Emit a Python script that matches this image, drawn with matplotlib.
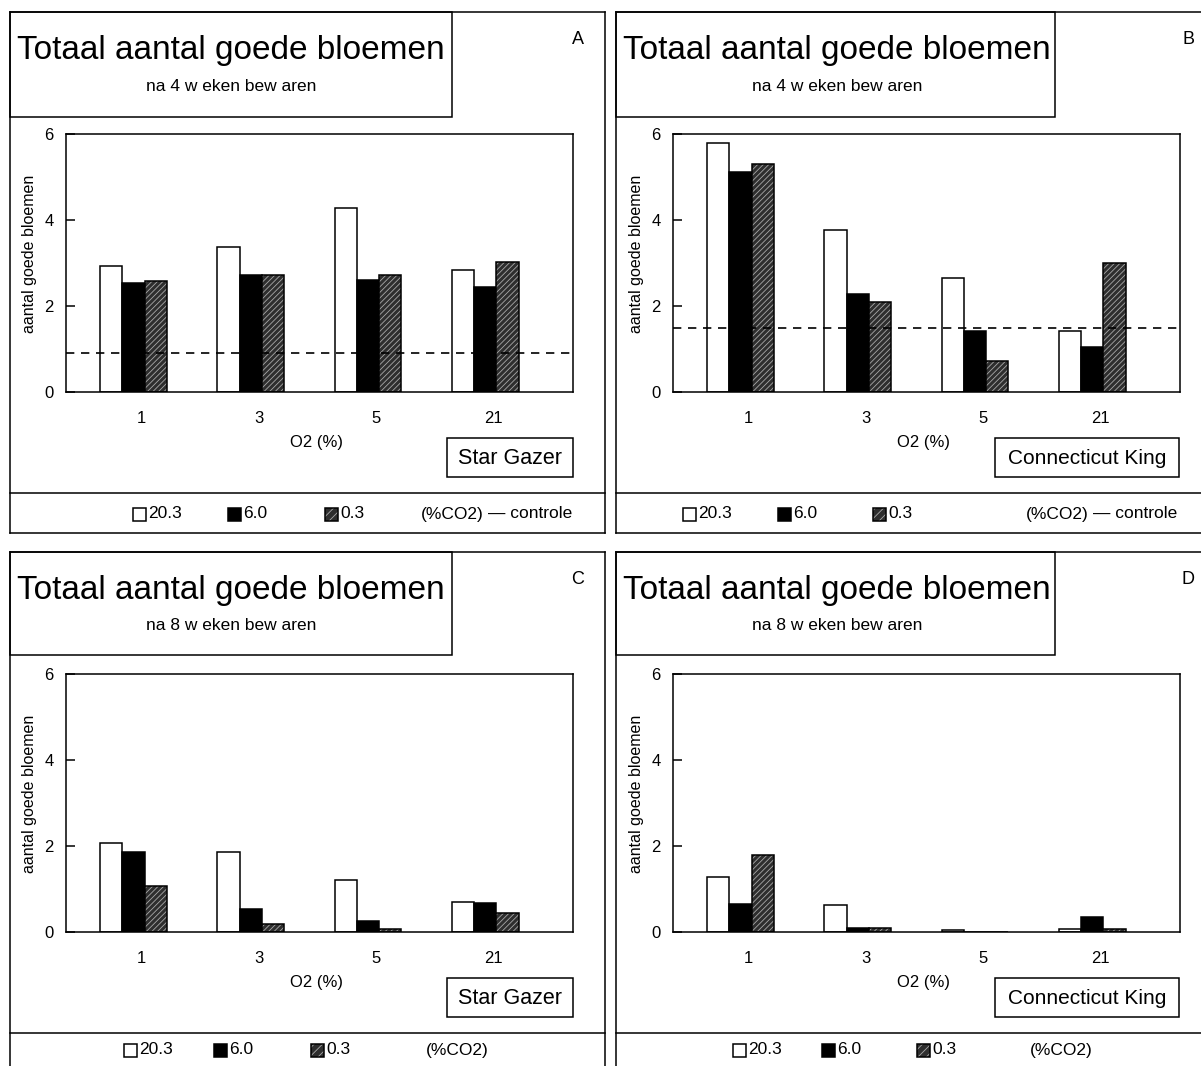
import matplotlib
matplotlib.use('Agg')
import matplotlib.pyplot as plt
from matplotlib.patches import Rectangle
from matplotlib.lines import Line2D
import numpy as np

plt.rcParams['font.family'] = ['Liberation Sans', 'DejaVu Sans']
plt.rcParams['hatch.linewidth'] = 0.6

# ---------------- data ----------------
o2_labels = ['1', '3', '5', '21']
co2_labels = ['20.3', '6.0', '0.3']

a_203 = [2.94, 3.38, 4.27, 2.84]
a_60 = [2.53, 2.72, 2.60, 2.45]
a_03 = [2.57, 2.72, 2.72, 3.03]
a_controle = 0.90

b_203 = [5.78, 3.77, 2.64, 1.41]
b_60 = [5.12, 2.29, 1.42, 1.05]
b_03 = [5.31, 2.09, 0.73, 3.01]
b_controle = 1.48

c_203 = [2.08, 1.87, 1.21, 0.69]
c_60 = [1.85, 0.53, 0.26, 0.68]
c_03 = [1.07, 0.18, 0.07, 0.44]

d_203 = [1.29, 0.62, 0.05, 0.07]
d_60 = [0.66, 0.10, 0.0, 0.35]
d_03 = [1.80, 0.09, 0.0, 0.07]

yticks = [0, 2, 4, 6]
title = 'Totaal aantal goede bloemen'
subtitles = ['na 4 w eken bew aren', 'na 8 w eken bew aren']
cultivars = ['Star Gazer', 'Connecticut King']
ylabel = 'aantal goede bloemen'
xlabel = 'O2 (%)'

# ---------------- layout helpers ----------------
W, H = 1201, 1066
fig = plt.figure(figsize=(W / 100, H / 100), dpi=100)
LW = 1.1


def fx(x):
    return x / W


def fy(y):
    return 1 - y / H


def line(x0, y0, x1, y1, **kw):
    fig.add_artist(Line2D([fx(x0), fx(x1)], [fy(y0), fy(y1)], color='k',
                          lw=kw.get('lw', LW), transform=fig.transFigure))


def rect(x0, y0, x1, y1, **kw):
    fig.add_artist(Rectangle((fx(x0), fy(y1)), (x1 - x0) / W, (y1 - y0) / H,
                             transform=fig.transFigure, **kw))


def panel(px, py, vals, controle, letter, sub, cultivar, show_controle):
    top, bot, sep = 12 + py, 533 + py, 493 + py
    left = 10 + px
    right = 605 + px if px == 0 else 1210
    # outer frame
    line(left, top, right, top)
    line(left, top, left, bot)
    line(right, top, right, bot)
    line(left, bot, right, bot)
    line(left, sep, right, sep)
    # title box
    rect(left, top, 452 + px - (0 if px == 0 else 3), 117 + py - (0 if py == 0 else 2),
         fill=False, edgecolor='k', lw=LW)
    tx = (left + 452 + px) / 2
    fig.text(fx(tx), fy(50 + py), title, fontsize=24, ha='center', va='center')
    fig.text(fx(tx), fy(86 + py), sub, fontsize=12.5, ha='center', va='center')
    fig.text(fx(578 + (0 if px == 0 else px + 4)), fy(40 + py), letter,
             fontsize=13, ha='center', va='center')

    # axes
    al = 66 + px + (1 if px else 0)
    ar = 573 + px + (1 if px else 0)
    at, ab = 134 + py, 392 + py
    ax = fig.add_axes([fx(al), fy(ab), (ar - al) / W, (ab - at) / H])
    x = np.arange(len(o2_labels))
    w, off = 0.19, -0.07
    v203, v60, v03 = vals
    ax.bar(x + off - w, v203, w, color='white', edgecolor='k', lw=LW)
    ax.bar(x + off, v60, w, color='k', edgecolor='k', lw=LW)
    ax.bar(x + off + w, v03, w, color='#2e2e2e', edgecolor='#a8a8a8',
           hatch='//////', lw=0)
    ax.bar(x + off + w, v03, w, fill=False, edgecolor='k', lw=LW)
    if controle is not None:
        ax.axhline(controle, color='k', lw=1.2, ls=(0, (5, 4)))
    ax.set_xlim(-0.646, 3.68)
    ax.set_ylim(0, 6)
    ax.set_yticks(yticks)
    ax.set_xticks(x)
    ax.set_xticklabels(o2_labels)
    ax.tick_params(axis='y', direction='in', length=6.5, width=LW, pad=9,
                   labelsize=12)
    ax.tick_params(axis='x', length=0, pad=14, labelsize=12)
    for s in ax.spines.values():
        s.set_linewidth(LW)
    ax.set_ylabel(ylabel, fontsize=11.5)
    ax.yaxis.set_label_coords(-0.058, 0.535)
    ax.set_xlabel(xlabel, fontsize=12)
    ax.xaxis.set_label_coords(0.495, -0.165)

    # cultivar box
    if px == 0:
        bx0, bx1 = 447, 573
        fsz = 15.5
    else:
        bx0, bx1 = 995, 1179
        fsz = 15
    by0, by1 = 438 + py, 477 + py
    rect(bx0, by0, bx1, by1, fill=False, edgecolor='k', lw=LW)
    fig.text(fx((bx0 + bx1) / 2), fy((by0 + by1) / 2 + 1), cultivar,
             fontsize=fsz, ha='center', va='center')

    # legend
    ly = 514 + py if py == 0 else 1050
    if px == 0:
        sq = [133, 228, 325] if py == 0 else [124, 214, 311]
        co2x = 421 if py == 0 else 426
    else:
        sq = [683, 778, 873] if py == 0 else [733, 822, 917]
        co2x = 1026 if py == 0 else 1030
    s = 13
    styles = [dict(facecolor='white', edgecolor='k'),
              dict(facecolor='k', edgecolor='k'),
              dict(facecolor='#2e2e2e', edgecolor='#a8a8a8', hatch='////')]
    for xs, lab, st in zip(sq, co2_labels, styles):
        rect(xs, ly - s / 2, xs + s, ly + s / 2, lw=LW if 'hatch' not in st else 0, **st)
        if 'hatch' in st:
            rect(xs, ly - s / 2, xs + s, ly + s / 2, fill=False, edgecolor='k', lw=LW)
        fig.text(fx(xs + s + 2), fy(ly), lab, fontsize=12.5, ha='left', va='center')
    fig.text(fx(co2x), fy(ly), '(%CO2)', fontsize=12.5, ha='left', va='center')
    if show_controle:
        fig.text(fx(co2x + 67), fy(ly), '\u2014 controle', fontsize=12.5,
                 ha='left', va='center')


panel(0, 0, (a_203, a_60, a_03), a_controle, 'A', subtitles[0], cultivars[0], True)
panel(606, 0, (b_203, b_60, b_03), b_controle, 'B', subtitles[0], cultivars[1], True)
panel(0, 540, (c_203, c_60, c_03), None, 'C', subtitles[1], cultivars[0], False)
panel(606, 540, (d_203, d_60, d_03), None, 'D', subtitles[1], cultivars[1], False)

fig.savefig('out.png', dpi=100, facecolor='white')
